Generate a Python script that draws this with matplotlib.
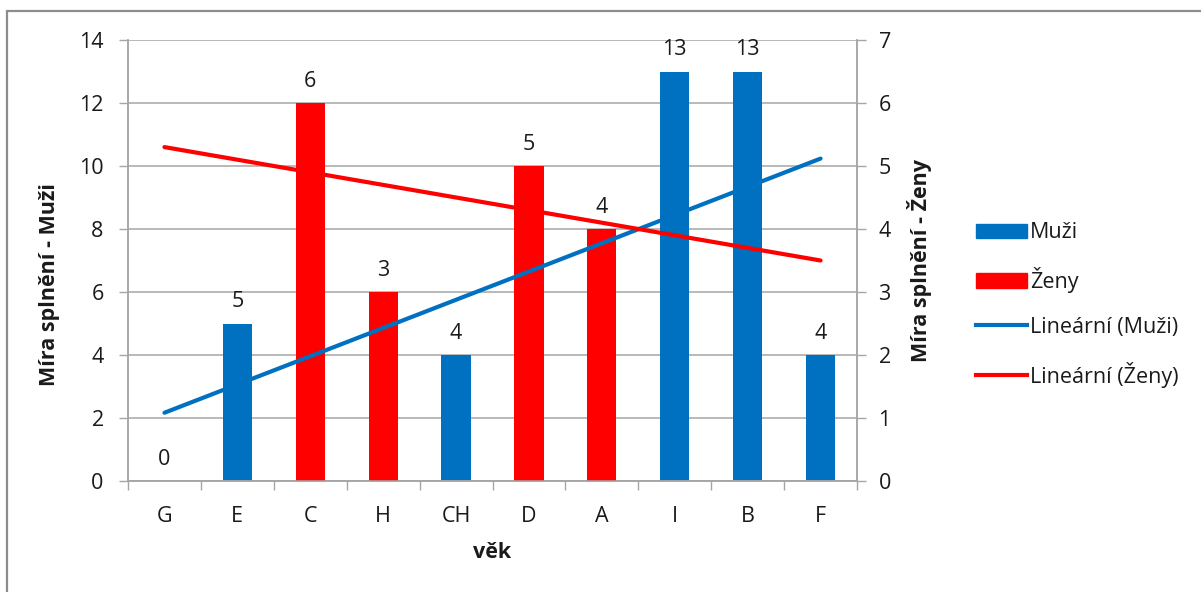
import numpy as np
import matplotlib
matplotlib.use("Agg")
import matplotlib.pyplot as plt
from matplotlib.patches import Rectangle, Patch
from matplotlib.lines import Line2D

plt.rcParams['font.family'] = ['Open Sans', 'DejaVu Sans']

# Data
categories = ["G", "E", "C", "H", "CH", "D", "A", "I", "B", "F"]
muzi = [0, 5, None, None, 4, None, None, 13, 13, 4]
zeny = [None, None, 6, 3, None, 5, 4, None, None, None]
left_ticks = [0, 2, 4, 6, 8, 10, 12, 14]
right_ticks = [0, 1, 2, 3, 4, 5, 6, 7]

BLUE = "#0070C0"
RED = "#FF0000"
GRID = "#A6A6A6"
FS = 15.5

fig = plt.figure(figsize=(12.01, 5.92), dpi=100)
W, H = 1201, 592

# outer chart frame
fig.add_artist(Rectangle((7 / W, -0.1), 1.2, 1 - 11 / H + 0.1,
                         transform=fig.transFigure, fill=False,
                         edgecolor="#8C8C8C", linewidth=1.6))

ax = fig.add_axes([128 / W, 1 - 481 / H, (857 - 128) / W, (481 - 40) / H])
ax2 = ax.twinx()

x = np.arange(len(categories))
m = np.array([np.nan if v is None else v for v in muzi], dtype=float)
z = np.array([np.nan if v is None else v for v in zeny], dtype=float)

bw = 0.4
ax.bar(x, np.nan_to_num(m), width=bw, color=BLUE, zorder=2)
ax2.bar(x, np.nan_to_num(z), width=bw, color=RED, zorder=2)

# value labels
for xi, v in zip(x, m):
    if not np.isnan(v):
        ax.annotate(f"{v:g}", (xi, v), xytext=(0, 8), textcoords="offset points",
                    ha="center", va="bottom", fontsize=FS, color="#1A1A1A")
for xi, v in zip(x, z):
    if not np.isnan(v):
        ax2.annotate(f"{v:g}", (xi, v), xytext=(0, 8), textcoords="offset points",
                     ha="center", va="bottom", fontsize=FS, color="#1A1A1A")

# linear trendlines (least squares over present points), drawn on top
mk = ~np.isnan(m)
zk = ~np.isnan(z)
pm = np.polyfit(x[mk], m[mk], 1)
pz = np.polyfit(x[zk], z[zk], 1)
xt = np.array([x[0], x[-1]])
ax2.plot(xt, np.polyval(pm, xt), color=BLUE, lw=3, solid_capstyle="round",
         transform=ax.transData, zorder=5)
ax2.plot(xt, np.polyval(pz, xt), color=RED, lw=3, solid_capstyle="round", zorder=6)

# axes
ax.set_xlim(-0.5, len(categories) - 0.5)
ax.set_ylim(0, 14)
ax2.set_ylim(0, 7)
ax.set_yticks(left_ticks)
ax2.set_yticks(right_ticks)
ax.yaxis.grid(True, color=GRID, lw=1.1, zorder=0)
ax.set_axisbelow(True)

ax.set_xticks(x)
ax.set_xticklabels(categories, fontsize=FS, color="#1A1A1A")
ax.set_xticks(np.arange(-0.5, len(categories)), minor=True)
ax.tick_params(axis="x", which="major", length=0, pad=18)
ax.tick_params(axis="x", which="minor", length=6.5, color=GRID, width=1)
ax.tick_params(axis="y", length=6.5, color=GRID, width=1, pad=11,
               labelsize=FS, labelcolor="#1A1A1A")
ax2.tick_params(axis="y", length=6.5, color=GRID, width=1, pad=9,
                labelsize=FS, labelcolor="#1A1A1A")

for a in (ax, ax2):
    for s in a.spines.values():
        s.set_color(GRID)
        s.set_linewidth(1.1)
    a.spines["top"].set_visible(False)

# axis titles
fig.text(50 / W, 1 - 285 / H, "Míra splnění - Muži", rotation=90, ha="center",
         va="center", fontsize=FS, fontweight="bold", color="#1A1A1A")
fig.text(920 / W, 1 - 260 / H, "Míra splnění - Ženy", rotation=90, ha="center",
         va="center", fontsize=FS, fontweight="bold", color="#1A1A1A")
fig.text(492 / W, 1 - 553 / H, "věk", ha="center", va="center",
         fontsize=FS, fontweight="bold", color="#1A1A1A")

# legend
handles = [Patch(color=BLUE), Patch(color=RED),
           Line2D([], [], color=BLUE, lw=3), Line2D([], [], color=RED, lw=3)]
labels = ["Muži", "Ženy", "Lineární (Muži)", "Lineární (Ženy)"]
fig.legend(handles, labels, loc="center left",
           bbox_to_anchor=(976 / W, 1 - 305 / H), frameon=False,
           fontsize=FS, handlelength=2.35, handleheight=0.68,
           handletextpad=0.15, labelspacing=1.1, borderpad=0,
           borderaxespad=0, labelcolor="#1A1A1A")

fig.savefig("out.png", dpi=100)
